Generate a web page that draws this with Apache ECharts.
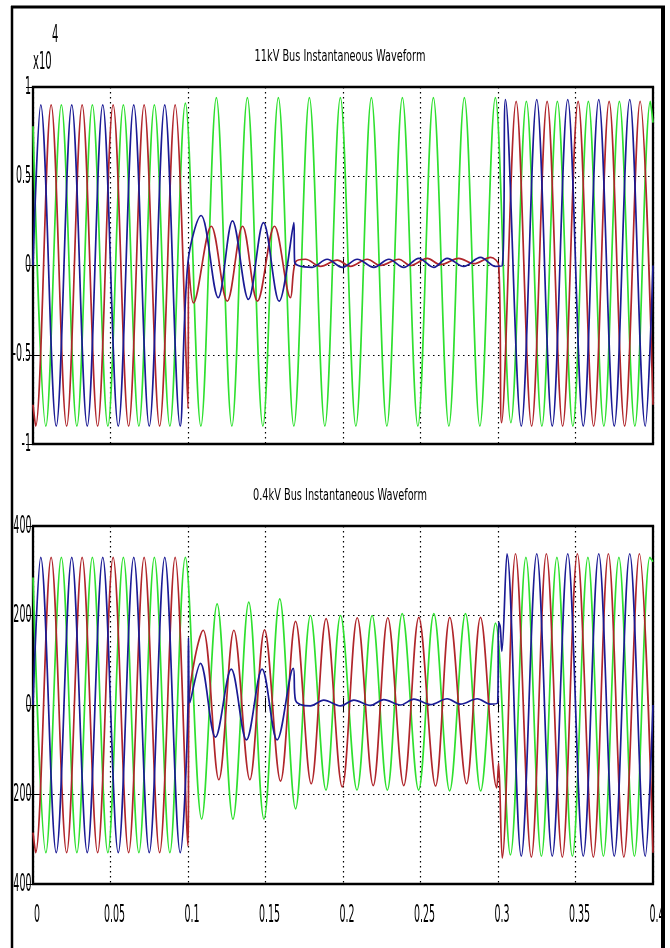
<!DOCTYPE html>
<html>
<head>
<meta charset="utf-8">
<script src="https://cdn.jsdelivr.net/npm/echarts@6/dist/echarts.min.js"></script>
<style>
html,body{margin:0;padding:0;background:#fff}
#chart{width:670px;height:948px}
</style>
</head>
<body>
<div id="chart"></div>
<script>
// time axis ticks (s)
const xTickValues = [0, 0.05, 0.1, 0.15, 0.2, 0.25, 0.3, 0.35, 0.4];
const xTickLabels = ['0', '0.05', '0.1', '0.15', '0.2', '0.25', '0.3', '0.35', '0.4'];
// value axis ticks
const hvTickValues = [-1, -0.5, 0, 0.5, 1];
const hvTickLabels = ['-1', '-0.5', '0', '0.5', '1'];
const lvTickValues = [-400, -200, 0, 200, 400];
const lvTickLabels = ['-400', '-200', '0', '200', '400'];

// 11kV bus, values in x10^4 V : [time, value] at peaks / troughs / breakpoints
const hvGreen = [[0,0.78],[0.0083,-0.9],[0.0183,0.9],[0.0283,-0.9],[0.0383,0.9],[0.0483,-0.9],[0.0583,0.9],[0.0683,-0.9],[0.0783,0.9],[0.0883,-0.9],[0.0983,0.91],
  [0.1083,-0.9],[0.1183,0.94],[0.1283,-0.9],[0.1383,0.94],[0.1483,-0.9],[0.1583,0.94],[0.1683,-0.9],[0.1783,0.94],[0.1883,-0.9],[0.1983,0.94],
  [0.2083,-0.9],[0.2183,0.94],[0.2283,-0.9],[0.2383,0.94],[0.2483,-0.9],[0.2583,0.94],[0.2683,-0.9],[0.2783,0.94],[0.2883,-0.9],[0.2983,0.94],
  [0.3083,-0.88],[0.3183,0.92],[0.3283,-0.9],[0.3383,0.92],[0.3483,-0.9],[0.3583,0.92],[0.3683,-0.9],[0.3783,0.92],[0.3883,-0.9],[0.3983,0.92],[0.4,0.8]];
const hvRed = [[0,-0.78],[0.0017,-0.9],[0.0117,0.9],[0.0217,-0.9],[0.0317,0.9],[0.0417,-0.9],[0.0517,0.9],[0.0617,-0.9],[0.0717,0.9],[0.0817,-0.9],[0.0917,0.9],[0.1,-0.8],
  [0.1004,0.01],[0.1035,-0.21],[0.115,0.22],[0.1253,-0.2],[0.1352,0.22],[0.1448,-0.2],[0.1558,0.22],[0.1661,-0.18],[0.1694,0.02],
  [0.1758,0.035],[0.1855,-0.005],[0.1962,0.03],[0.2048,-0.005],[0.2156,0.035],[0.2242,0],[0.236,0.035],[0.2435,0],[0.2543,0.04],[0.2629,0.005],[0.2747,0.04],[0.2844,0.01],[0.2952,0.045],
  [0.3005,0],[0.3023,-0.88],[0.3117,0.92],[0.3217,-0.9],[0.3317,0.92],[0.3417,-0.9],[0.3517,0.92],[0.3617,-0.9],[0.3717,0.92],[0.3817,-0.9],[0.3917,0.92],[0.4,-0.78]];
const hvBlue = [[0,0],[0.005,0.9],[0.015,-0.9],[0.025,0.9],[0.035,-0.9],[0.045,0.9],[0.055,-0.9],[0.065,0.9],[0.075,-0.9],[0.085,0.9],[0.095,-0.9],[0.1,0.02],
  [0.1085,0.28],[0.1195,-0.18],[0.1287,0.25],[0.139,-0.19],[0.1487,0.24],[0.1588,-0.2],[0.1683,0.24],[0.1688,0.02],
  [0.1801,-0.01],[0.1898,0.035],[0.1995,-0.01],[0.2092,0.035],[0.2199,-0.01],[0.2296,0.035],[0.2392,-0.01],[0.2489,0.04],[0.2586,-0.01],[0.2672,0.04],[0.2779,-0.005],[0.2887,0.045],[0.2984,-0.005],
  [0.3028,0],[0.3048,0.93],[0.315,-0.9],[0.325,0.93],[0.335,-0.9],[0.345,0.93],[0.355,-0.9],[0.365,0.93],[0.375,-0.9],[0.385,0.93],[0.395,-0.9],[0.4,0]];

// 0.4kV bus, values in V
const lvGreen = [[0,285],[0.0083,-330],[0.0183,330],[0.0283,-330],[0.0383,330],[0.0483,-330],[0.0583,330],[0.0683,-330],[0.0783,330],[0.0883,-330],[0.0983,330],
  [0.1088,-255],[0.1188,226],[0.129,-255],[0.1392,230],[0.149,-255],[0.1592,237],[0.1694,-232],[0.179,200],[0.189,-190],[0.1984,200],
  [0.209,-190],[0.2188,200],[0.2286,-190],[0.2382,204],[0.2488,-190],[0.2586,204],[0.2688,-192],[0.279,204],[0.2888,-192],[0.2984,183],
  [0.308,-335],[0.318,330],[0.328,-338],[0.338,330],[0.348,-338],[0.358,330],[0.368,-338],[0.378,330],[0.388,-338],[0.398,330],[0.4,320]];
const lvRed = [[0,-285],[0.0017,-330],[0.0117,330],[0.0217,-330],[0.0317,330],[0.0417,-330],[0.0517,330],[0.0617,-330],[0.0717,330],[0.0817,-330],[0.0917,330],[0.1,-315],
  [0.1006,0],[0.1098,167],[0.1199,-167],[0.1296,167],[0.1399,-167],[0.1494,168],[0.1597,-170],[0.1694,187],[0.1795,-176],[0.1891,193],[0.1995,-183],
  [0.2092,195],[0.2195,-180],[0.2289,195],[0.2392,-180],[0.2489,196],[0.2597,-181],[0.2689,196],[0.2797,-176],[0.2887,196],
  [0.2992,-185],[0.3004,-130],[0.3027,-342],[0.3113,338],[0.3215,-340],[0.3312,338],[0.3415,-340],[0.3512,338],[0.3615,-340],[0.3712,338],[0.3812,-340],[0.3912,338],[0.4,-330]];
const lvBlue = [[0,0],[0.005,330],[0.015,-330],[0.025,330],[0.035,-330],[0.045,330],[0.055,-330],[0.065,330],[0.075,-330],[0.085,330],[0.095,-330],[0.1,0],
  [0.1003,150],[0.1012,5],[0.108,93],[0.1177,-72],[0.1279,80],[0.1377,-78],[0.1478,80],[0.1575,-78],[0.1679,82],[0.1694,10],
  [0.179,-2],[0.1876,11],[0.1984,-2],[0.207,11],[0.2177,-1],[0.2263,12],[0.2371,0],[0.2457,13],[0.2565,1],[0.2672,14],[0.2758,2],[0.2866,14],[0.2952,2],
  [0.2998,5],[0.3004,185],[0.3014,175],[0.3025,120],[0.3058,338],[0.315,-338],[0.325,338],[0.335,-338],[0.345,338],[0.355,-338],[0.365,338],[0.375,-338],[0.385,338],[0.395,-338],[0.4,0]];

const dotted = {color: '#000', type: [1.5, 3.5], width: 1.2};
const GREEN = '#2fe02f', RED = '#b0262b', BLUE = '#1b1b95';

function xAx(grid, pos) {
  return {
    type: 'value', gridIndex: grid, position: pos, min: 0, max: 0.4, interval: 0.05,
    axisLine: {show: false},
    axisTick: {show: true, inside: true, length: 7, lineStyle: {color: '#000'}},
    axisLabel: {show: false},
    splitLine: {show: pos === 'bottom', lineStyle: dotted}
  };
}
function yAx(grid, pos, min, max, step) {
  return {
    type: 'value', gridIndex: grid, position: pos, min: min, max: max, interval: step,
    axisLine: {show: false},
    axisTick: {show: true, inside: true, length: 7, lineStyle: {color: '#000'}},
    axisLabel: {show: false},
    splitLine: {show: pos === 'left', lineStyle: dotted}
  };
}
function wave(data, color, xi, yi) {
  return {
    type: 'line', xAxisIndex: xi, yAxisIndex: yi, data: data, smooth: 0.35,
    symbol: 'none', lineStyle: {color: color, width: 1.7}, silent: true
  };
}
// tall, narrow text like the scanned original
function narrow(text, x, y, align, size, sx) {
  return {
    type: 'text', x: x, y: y, scaleX: sx, z: 50, silent: true,
    style: {text: text, font: size + 'px "DejaVu Sans"', fill: '#000', align: align, verticalAlign: 'middle'}
  };
}

const chart = echarts.init(document.getElementById('chart'));
chart.setOption({
  animation: false,
  backgroundColor: '#fff',
  grid: [
    {left: 33, top: 87, width: 620, height: 357, show: true, borderColor: '#000', borderWidth: 2.3, outerBoundsMode: 'none', containLabel: false},
    {left: 33, top: 526, width: 620, height: 358, show: true, borderColor: '#000', borderWidth: 2.3, outerBoundsMode: 'none', containLabel: false}
  ],
  xAxis: [xAx(0, 'bottom'), xAx(0, 'top'), xAx(1, 'bottom'), xAx(1, 'top')],
  yAxis: [yAx(0, 'left', -1, 1, 0.5), yAx(0, 'right', -1, 1, 0.5), yAx(1, 'left', -400, 400, 200), yAx(1, 'right', -400, 400, 200)],
  series: [
    wave(hvGreen, GREEN, 0, 0), wave(hvRed, RED, 0, 0), wave(hvBlue, BLUE, 0, 0),
    wave(lvGreen, GREEN, 2, 2), wave(lvRed, RED, 2, 2), wave(lvBlue, BLUE, 2, 2)
  ]
});

// tick labels placed from the axes' own scales
const labels = [];
xTickValues.forEach((v, i) => {
  labels.push(narrow(xTickLabels[i], chart.convertToPixel({xAxisIndex: 2}, v) + 4, 915, 'center', 25, 0.38));
});
hvTickValues.forEach((v, i) => {
  labels.push(narrow(hvTickLabels[i], 31, chart.convertToPixel({yAxisIndex: 0}, v), 'right', 25, 0.38));
});
lvTickValues.forEach((v, i) => {
  labels.push(narrow(lvTickLabels[i], 31.5, chart.convertToPixel({yAxisIndex: 2}, v), 'right', 25, 0.38));
});

chart.setOption({
  graphic: labels.concat([
    narrow('11kV Bus Instantaneous Waveform', 340, 57, 'center', 15, 0.65),
    narrow('0.4kV Bus Instantaneous Waveform', 340, 496, 'center', 15, 0.65),
    narrow('x10', 33, 62, 'left', 25, 0.4),
    narrow('4', 52, 35, 'left', 25, 0.4),
    // page frame, with white margin left of it
    {type: 'rect', shape: {x: 0, y: 0, width: 11, height: 948}, style: {fill: '#fff'}, z: 100},
    {type: 'line', shape: {x1: 12, y1: 6, x2: 12, y2: 948}, style: {stroke: '#000', lineWidth: 2.5}, z: 101},
    {type: 'line', shape: {x1: 11, y1: 7, x2: 665, y2: 7}, style: {stroke: '#000', lineWidth: 3}, z: 101},
    {type: 'line', shape: {x1: 663, y1: 6, x2: 663, y2: 948}, style: {stroke: '#000', lineWidth: 4}, z: 101}
  ])
});
</script>
</body>
</html>
